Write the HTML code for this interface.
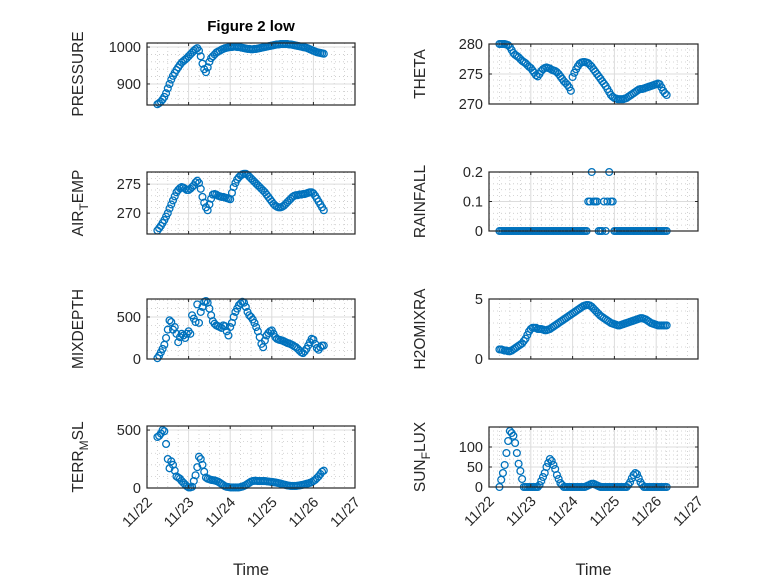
<!DOCTYPE html>
<html><head><meta charset="utf-8"><style>
html,body{margin:0;padding:0;background:#fff;}
svg text{font-family:"Liberation Sans",sans-serif;fill:#262626;}
</style></head><body>
<svg id="fig" width="778" height="583" viewBox="0 0 778 583" xmlns="http://www.w3.org/2000/svg">
<rect width="778" height="583" fill="#fff"/>
<text x="251" y="31" text-anchor="middle" font-size="15" font-weight="bold" style="fill:#000">Figure 2 low</text>
</svg>
<script>
const xTickLabels=["11/22","11/23","11/24","11/25","11/26","11/27"];
const pressure=[845,848,852,858,865,875,888,900,912,922,930,938,945,952,958,962,966,970,975,980,985,990,994,997,
990,975,955,940,932,945,960,970,975,980,985,988,990,993,995,997,998,999,1000,1000,1001,1001,1000,1000,
999,998,997,996,995,995,994,994,995,995,996,997,998,999,1000,1001,1002,1003,1004,1005,1006,1007,1007,1008,
1008,1008,1008,1008,1007,1007,1006,1005,1004,1003,1002,1001,1000,999,998,996,994,992,990,988,986,985,984,983,982];
const theta=[280,280,280,280,279.9,279.8,279.5,279,278.5,278.2,278,277.8,277.5,277.2,277,276.8,276.5,276.2,276,275.6,275.2,274.8,274.6,275,
275.5,275.8,276,276.1,276,275.9,275.7,275.6,275.5,275.3,275,274.6,274.2,273.8,273.5,273.2,272.8,272.2,274.5,275.2,275.8,276.3,276.7,276.9,
277,277,276.9,276.8,276.5,276.2,275.8,275.4,275,274.6,274.2,273.8,273.4,273,272.5,272,271.5,271.2,271,270.9,270.8,270.8,270.8,270.8,
270.9,271,271.2,271.4,271.6,271.8,272,272.2,272.4,272.5,272.5,272.6,272.7,272.8,272.9,273,273.1,273.2,273.3,273.4,273.3,272.8,272.2,271.8,271.5];
const airTemp=[267,267.4,267.8,268.3,268.8,269.4,270,270.8,271.5,272.2,272.9,273.6,274,274.3,274.5,274.4,274.2,274,274,274.2,274.5,274.8,275.3,275.6,
275.2,274.2,272.8,271.8,271,270.5,271.5,272.5,273.2,273.3,273.2,273,272.9,272.8,272.8,272.7,272.6,272.5,272.4,273.5,274.5,275.2,275.8,276.2,
276.5,276.7,276.8,276.8,276.6,276.3,276,275.7,275.4,275.1,274.8,274.5,274.2,273.9,273.6,273.2,272.8,272.4,272,271.6,271.3,271.1,271,271,
271.1,271.3,271.6,271.9,272.2,272.5,272.8,273,273.1,273.1,273.2,273.2,273.3,273.3,273.4,273.5,273.6,273.6,273.4,273,272.5,272,271.5,271,270.5];
const rainfall=[0,0,0,0,0,0,0,0,0,0,0,0,0,0,0,0,0,0,0,0,0,0,0,0,
0,0,0,0,0,0,0,0,0,0,0,0,0,0,0,0,0,0,0,0,0,0,0,0,
0,0,0,0.1,0.1,0.2,0.1,0.1,0.1,0,0,0,0.1,0,0.1,0.2,0.1,0.1,0,0,0,0,0,0,
0,0,0,0,0,0,0,0,0,0,0,0,0,0,0,0,0,0,0,0,0,0,0,0,0];
const mixDepth=[10,40,80,120,170,250,350,460,440,350,380,300,200,260,300,280,250,300,330,300,520,480,440,650,
430,560,620,680,690,670,600,520,450,420,400,390,380,370,400,390,330,280,380,430,500,560,600,640,
660,680,670,620,560,520,500,470,430,380,330,260,180,140,220,280,310,330,340,300,260,240,230,225,
220,210,200,190,185,175,165,150,140,120,100,80,70,90,120,160,200,240,230,180,130,110,140,160,160];
const h2oMix=[0.8,0.8,0.75,0.7,0.7,0.65,0.65,0.7,0.8,0.9,1.0,1.1,1.2,1.3,1.5,1.7,2.0,2.3,2.5,2.6,2.6,2.6,2.5,2.5,
2.5,2.45,2.4,2.4,2.45,2.5,2.6,2.7,2.8,2.9,3.0,3.1,3.2,3.3,3.4,3.5,3.6,3.7,3.8,3.9,4.0,4.1,4.2,4.3,
4.4,4.45,4.5,4.5,4.45,4.35,4.2,4.05,3.9,3.75,3.6,3.5,3.4,3.3,3.2,3.1,3.0,2.95,2.9,2.85,2.8,2.8,2.85,2.9,
2.95,3.0,3.05,3.1,3.15,3.2,3.25,3.3,3.35,3.4,3.4,3.35,3.3,3.2,3.1,3.0,2.95,2.9,2.85,2.8,2.8,2.8,2.8,2.8,2.8];
const terrMsl=[440,450,470,500,490,380,250,170,230,200,150,100,90,80,60,45,30,15,5,5,10,60,110,180,
270,250,200,140,90,80,75,70,68,65,60,55,45,35,25,15,10,8,5,5,5,5,5,5,
8,12,18,25,35,45,55,60,62,62,60,60,60,60,60,58,56,54,52,50,48,45,42,38,
34,30,26,22,20,18,18,18,18,20,22,25,28,32,36,40,45,50,60,70,85,100,120,140,150];
const sunFlux=[0,18,35,55,85,115,140,135,128,110,85,58,40,20,0,0,0,0,0,0,0,0,0,5,
15,25,35,50,60,70,65,55,45,30,20,10,5,0,0,0,0,0,0,0,0,0,0,0,
0,0,2,4,6,8,8,6,4,2,0,0,0,0,0,0,0,0,0,0,0,0,0,0,
0,0,5,12,22,30,35,32,22,12,5,0,0,0,0,0,0,0,0,0,0,0,0,0,0];
const startDay=0.25, stepDay=1/24;

const NS="http://www.w3.org/2000/svg";
const svg=document.getElementById('fig');
function mk(tag,attrs,parent){const e=document.createElementNS(NS,tag);for(const k in attrs)e.setAttribute(k,attrs[k]);(parent||svg).appendChild(e);return e;}

const panels=[
 {name:"pressure",lbl:["PRESSURE"],data:pressure,box:[147,43,355,105],ylim:[843,1011],ticks:[900,1000],minor:20,xl:false},
 {name:"theta",lbl:["THETA"],data:theta,box:[489,44,698,104],ylim:[270,280],ticks:[270,275,280],minor:1,xl:false},
 {name:"air-temp",lbl:["AIR","T","EMP"],data:airTemp,box:[147,172,355,234],ylim:[266.4,277.1],ticks:[270,275],minor:1,xl:false},
 {name:"rainfall",lbl:["RAINFALL"],data:rainfall,box:[489,172,698,231],ylim:[0,0.2],ticks:[0,0.1,0.2],minor:0.02,xl:false},
 {name:"mixdepth",lbl:["MIXDEPTH"],data:mixDepth,box:[147,299,355,359],ylim:[0,714],ticks:[0,500],minor:100,xl:false},
 {name:"h2omixra",lbl:["H2OMIXRA"],data:h2oMix,box:[489,299,698,359],ylim:[0,5],ticks:[0,5],minor:1,xl:false},
 {name:"terr-msl",lbl:["TERR","M","SL"],data:terrMsl,box:[147,426,355,488],ylim:[0,535],ticks:[0,500],minor:100,xl:true},
 {name:"sun-flux",lbl:["SUN","F","LUX"],data:sunFlux,box:[489,427,698,487],ylim:[0,150],ticks:[0,50,100],minor:10,xl:true}
];

panels.forEach(p=>{
 const [x0,y0,x1,y1]=p.box;
 const g=mk('g',{});
 
 
 const xs=d=>x0+(d/5)*(x1-x0);
 const ys=v=>y1-(v-p.ylim[0])/(p.ylim[1]-p.ylim[0])*(y1-y0);
 for(let d=0.25;d<5;d+=0.25){ if(Math.abs(d-Math.round(d))<1e-6)continue;
  mk('line',{x1:xs(d),x2:xs(d),y1:y0,y2:y1,stroke:'#c8c8c8','stroke-width':0.8,'stroke-dasharray':'1,3'},g);}
 const m0=Math.ceil(p.ylim[0]/p.minor)*p.minor;
 for(let v=m0;v<=p.ylim[1]+1e-9;v+=p.minor){
  if(p.ticks.some(t=>Math.abs(t-v)<1e-9))continue;
  mk('line',{x1:x0,x2:x1,y1:ys(v),y2:ys(v),stroke:'#c8c8c8','stroke-width':0.8,'stroke-dasharray':'1,3'},g);}
 for(let d=1;d<5;d++) mk('line',{x1:xs(d),x2:xs(d),y1:y0,y2:y1,stroke:'#dcdcdc','stroke-width':1},g);
 p.ticks.forEach(t=>mk('line',{x1:x0,x2:x1,y1:ys(t),y2:ys(t),stroke:'#dcdcdc','stroke-width':1},g));
 const sg=mk('g',{},g);
 
 
 p.data.forEach((v,i)=>{
  const c=mk('circle',{cx:xs(startDay+i*stepDay),cy:ys(v),r:3.4,fill:'none',stroke:'#0072BD','stroke-width':1.3},sg);
  
  
 });
 mk('rect',{x:x0,y:y0,width:x1-x0,height:y1-y0,fill:'none',stroke:'#262626','stroke-width':1.2},g);
 for(let d=0;d<=5;d++){mk('line',{x1:xs(d),x2:xs(d),y1:y1,y2:y1-3,stroke:'#262626'},g);mk('line',{x1:xs(d),x2:xs(d),y1:y0,y2:y0+3,stroke:'#262626'},g);}
 p.ticks.forEach(t=>{
  mk('line',{x1:x0,x2:x0+3,y1:ys(t),y2:ys(t),stroke:'#262626'},g);
  mk('line',{x1:x1,x2:x1-3,y1:ys(t),y2:ys(t),stroke:'#262626'},g);
  const tx=mk('text',{x:x0-6,y:ys(t)+5,'text-anchor':'end','font-size':14.5},g);
  tx.textContent=String(t);
  
  
 });
 const lx=x0-64, ly=(y0+y1)/2;
 const yl=mk('text',{x:lx,y:ly,'text-anchor':'middle','font-size':15.5,transform:`rotate(-90 ${lx} ${ly})`},g);
 
 
 if(p.lbl.length===1){yl.textContent=p.lbl[0];}
 else{const a=mk('tspan',{},yl);a.textContent=p.lbl[0];
  const b=mk('tspan',{dy:5,'font-size':12},yl);b.textContent=p.lbl[1];
  const c=mk('tspan',{dy:-5},yl);c.textContent=p.lbl[2];}
 if(p.xl){
  xTickLabels.forEach((s,d)=>{
   const tx=xs(d)+6, ty=y1+15;
   const t=mk('text',{x:tx,y:ty,'text-anchor':'end','font-size':14.5,transform:`rotate(-45 ${tx} ${ty})`},g);
   t.textContent=s;
   
   
  });
  const xt=mk('text',{x:(x0+x1)/2,y:575,'text-anchor':'middle','font-size':16.5},g);
  xt.textContent='Time';
  
  
 }
});
</script>
</body></html>
